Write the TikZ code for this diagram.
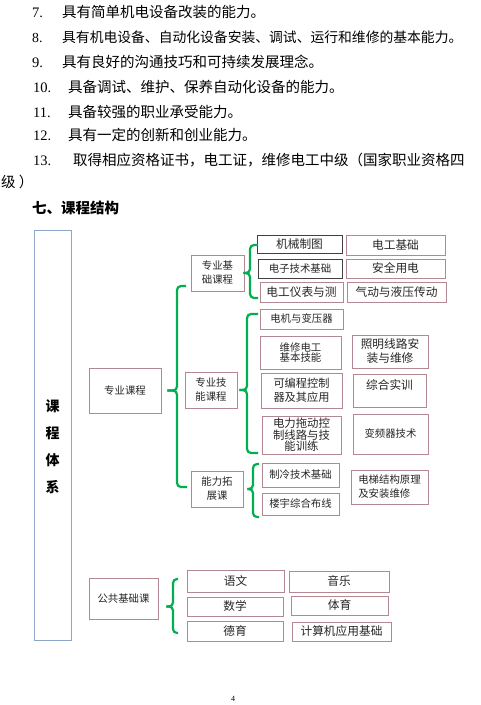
\documentclass[tikz,border=0pt]{standalone}
\usepackage{fontspec}
\setmainfont{Liberation Serif}
\newfontfamily\cjk{Noto Sans CJK SC}
\definecolor{boxpink}{HTML}{B48892}
\definecolor{bracegreen}{HTML}{00B050}
\definecolor{frameblue}{HTML}{8EA6CC}
\begin{document}
\begin{tikzpicture}[x=1pt,y=-1pt,
  pbox/.style={draw=boxpink, line width=0.9pt, inner sep=0pt, align=center, text=black!85},
  kbox/.style={pbox, draw=black!75},
  txtS/.style={font=\cjk\fontsize{10.4}{14}\selectfont},
  txtL/.style={font=\cjk\fontsize{11.7}{14}\selectfont},
  brace/.style={draw=bracegreen, line width=2.2pt, rounded corners=4pt},
  itemline/.style={anchor=base west, inner sep=0pt, font=\fontsize{14.5}{14}\selectfont}]
% page area
\path[use as bounding box, fill=white] (0,0) rectangle (480,705);

% ====================
% list of abilities 7--13
\node[itemline] (it7) at (32,17) {\makebox[30pt][l]{7.}\cjk 具有简单机电设备改装的能力。};
\node[itemline, font=\fontsize{13.8}{14}\selectfont] (it8) at (32,42) {\makebox[30pt][l]{8.}\cjk 具有机电设备、自动化设备安装、调试、运行和维修的基本能力。};
\node[itemline] (it9) at (32,67) {\makebox[30pt][l]{9.}\cjk 具有良好的沟通技巧和可持续发展理念。};
\node[itemline] (it10) at (33,92) {\makebox[35pt][l]{10.}\cjk 具备调试、维护、保养自动化设备的能力。};
\node[itemline] (it11) at (33,117) {\makebox[35pt][l]{11.}\cjk 具备较强的职业承受能力。};
\node[itemline] (it12) at (33,140) {\makebox[35pt][l]{12.}\cjk 具有一定的创新和创业能力。};
\node[itemline] (it13) at (33,165) {\makebox[40pt][l]{13.}\cjk 取得相应资格证书，电工证，维修电工中级（国家职业资格四};
\node[itemline] (it13b) at (1,187) {\cjk 级 ）};
% section heading
\node[itemline, font=\cjk\bfseries\fontsize{14.5}{14}\selectfont] (head) at (32,213) {七、课程结构};

% ====================
% left frame: the whole course system
\node[draw=frameblue, line width=0.9pt, minimum width=37pt, minimum height=410pt,
  label={[align=center, yshift=-12pt, font=\cjk\bfseries\fontsize{14}{27}\selectfont]center:{课\\程\\体\\系}}]
  (kctx) at (52.5,435) {};

% ====================
% professional courses
\node[pbox, txtS, minimum width=72pt, minimum height=45pt] (zykc) at (125,390.5) {专业课程};
\node[pbox, txtS, minimum width=53pt, minimum height=36pt] (zyjc) at (217.5,273) {专业基\\础课程};
\node[pbox, txtS, minimum width=52pt, minimum height=36pt] (zyjn) at (211,390) {专业技\\能课程};
\node[pbox, txtS, minimum width=52pt, minimum height=36pt] (nltz) at (217,489) {能力拓\\展课};

% basic professional courses
\node[kbox, txtL, minimum width=85pt, minimum height=18pt] (jxzt) at (299.5,244) {机械制图};
\node[pbox, txtL, minimum width=99pt, minimum height=20pt] (dgjc) at (395.5,245) {电工基础};
\node[kbox, txtS, minimum width=84pt, minimum height=19pt] (dzjs) at (300,268.5) {电子技术基础};
\node[pbox, txtL, minimum width=99pt, minimum height=19pt] (aqyd) at (395.5,268.5) {安全用电};
\node[pbox, txtL, minimum width=83pt, minimum height=20pt] (dgyb) at (301.5,292) {电工仪表与测};
\node[pbox, txtL, minimum width=99pt, minimum height=20pt] (qdyy) at (396.5,292) {气动与液压传动};

% skill courses
\node[pbox, txtS, minimum width=83pt, minimum height=20pt] (djby) at (301.5,319) {电机与变压器};
\node[pbox, font=\cjk\fontsize{10.4}{10}\selectfont, minimum width=81pt, minimum height=33pt] (wxdg) at (300.5,352.5) {维修电工\\基本技能};
\node[pbox, txtL, minimum width=76pt, minimum height=33pt] (zmxl) at (390,351.5) {照明线路安\\装与维修};
\node[pbox, font=\cjk\fontsize{11.2}{14}\selectfont, minimum width=81pt, minimum height=35pt] (kbc) at (301.5,390.5) {可编程控制\\器及其应用};
\node[pbox, minimum width=73pt, minimum height=33pt,
  label={[anchor=north, yshift=-3pt, txtL, text=black!85]north:{综合实训}}] (zhsx) at (389.5,390.5) {};
\node[pbox, font=\cjk\fontsize{11.4}{10}\selectfont, minimum width=79pt, minimum height=38pt] (dltd) at (301.5,435) {电力拖动控\\制线路与技\\能训练};
\node[pbox, txtS, minimum width=75pt, minimum height=40pt] (bpq) at (390.5,434) {变频器技术};

% extension courses
\node[pbox, txtS, minimum width=77pt, minimum height=24pt] (zljs) at (300.5,475) {制冷技术基础};
\node[pbox, txtS, minimum width=77pt, minimum height=22pt] (lyzh) at (300.5,504) {楼宇综合布线};
\node[pbox, txtS, align=left, minimum width=77pt, minimum height=34pt] (dtjg) at (389.5,487) {电梯结构原理\\及安装维修};

% ====================
% public basic courses
\node[pbox, txtS, minimum width=69pt, minimum height=41pt] (ggjc) at (123.5,598.5) {公共基础课};
\node[pbox, txtL, minimum width=97pt, minimum height=22pt] (yw) at (235.5,581) {语文};
\node[pbox, txtL, minimum width=96pt, minimum height=19pt] (sx) at (235,606.5) {数学};
\node[pbox, txtL, minimum width=96pt, minimum height=20pt] (dy) at (235,631) {德育};
\node[pbox, txtL, minimum width=100pt, minimum height=21pt] (yy) at (339,581.5) {音乐};
\node[pbox, txtL, minimum width=97pt, minimum height=19pt] (ty) at (339.5,605.5) {体育};
\node[pbox, txtL, minimum width=99pt, minimum height=19pt] (jsj) at (341.5,631.5) {计算机应用基础};

% ====================
% green braces, tip at the parent box
\coordinate (b1t) at (186,286);
\coordinate (b1b) at (187,487);
\draw[brace] (b1t) -- ++(-9,0) |- ([xshift=6pt]zykc.east);
\draw[brace] (b1b) -- ++(-10,0) |- ([xshift=6pt]zykc.east);

\coordinate (b2t) at (258,245);
\coordinate (b2b) at (258,298);
\draw[brace] (b2t) -- ++(-8,0) |- ([xshift=-1pt]zyjc.east);
\draw[brace] (b2b) -- ++(-8,0) |- ([xshift=-1pt]zyjc.east);

\coordinate (b3t) at (258,314);
\coordinate (b3b) at (258,453);
\draw[brace] (b3t) -- ++(-11,0) |- ([xshift=2pt]zyjn.east);
\draw[brace] (b3b) -- ++(-11,0) |- ([xshift=2pt]zyjn.east);

\coordinate (b4t) at (259,464);
\coordinate (b4b) at (259,517);
\draw[brace] (b4t) -- ++(-6,0) |- ([xshift=4pt]nltz.east);
\draw[brace] (b4b) -- ++(-6,0) |- ([xshift=4pt]nltz.east);

\coordinate (b5t) at (178,579);
\coordinate (b5b) at (178,633);
\draw[brace] (b5t) -- ++(-5,0) |- ([xshift=8pt,yshift=-8pt]ggjc.east);
\draw[brace] (b5b) -- ++(-5,0) |- ([xshift=8pt,yshift=-8pt]ggjc.east);

% page number
\node[inner sep=0pt, font=\fontsize{8}{8}\selectfont] (pg) at (233,699) {4};
\end{tikzpicture}
\end{document}
